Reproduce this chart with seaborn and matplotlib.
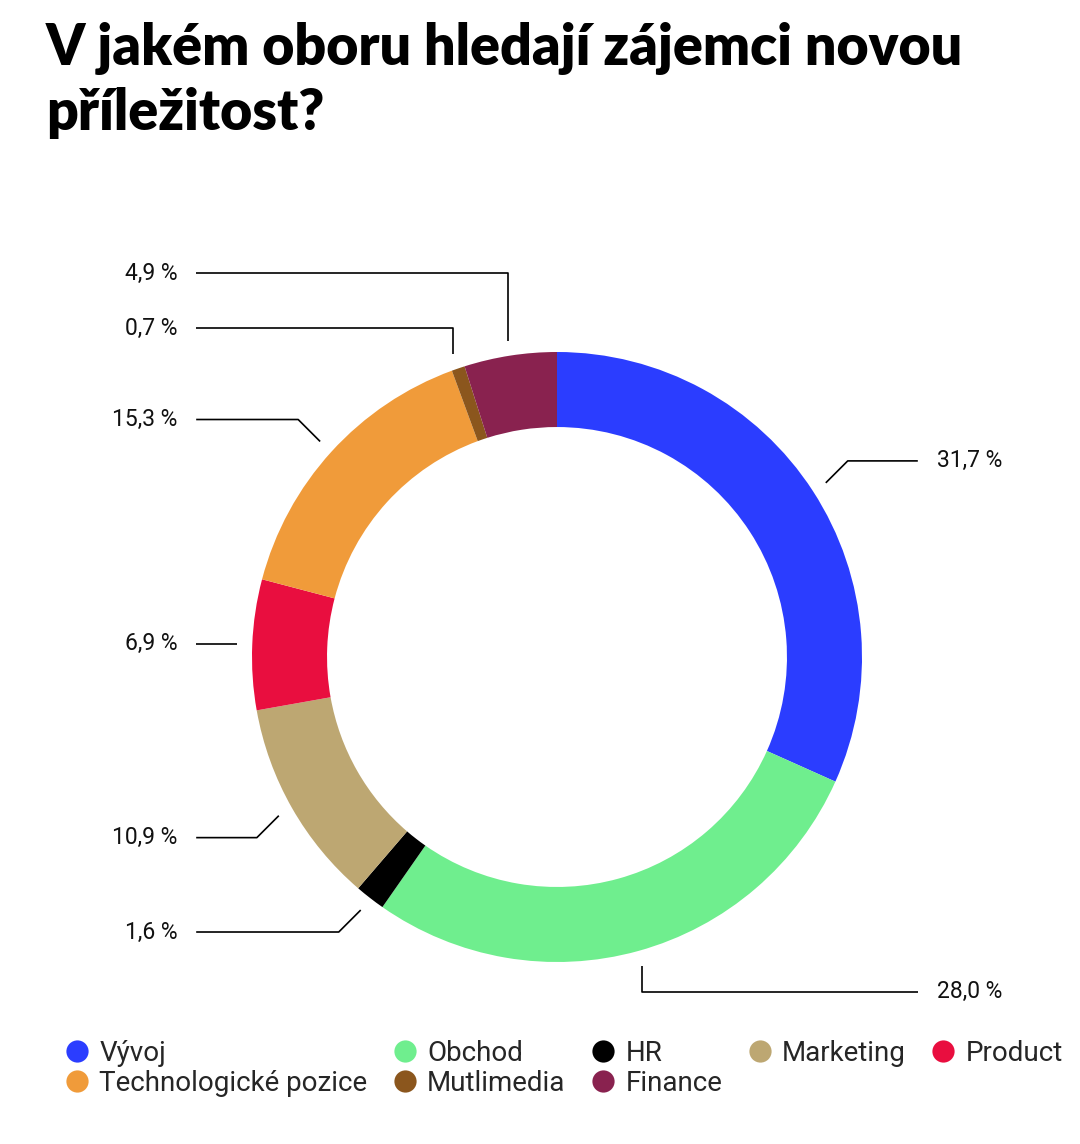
import numpy as np
import matplotlib
matplotlib.use("Agg")
import matplotlib.pyplot as plt
import seaborn as sns
from matplotlib.lines import Line2D

categories = ["Vývoj", "Obchod", "HR", "Marketing", "Product",
              "Technologické pozice", "Mutlimedia", "Finance"]
values = [31.7, 28.0, 1.6, 10.9, 6.9, 15.3, 0.7, 4.9]
colors = ["#2B3DFF", "#6FEE8E", "#000000", "#BDA772", "#E90E3F",
          "#F09B3A", "#8B561D", "#89224F"]
title = "V jakém oboru hledají zájemci novou\npříležitost?"

sns.set_theme(style="white")
plt.rcParams['font.family'] = ['Roboto', 'DejaVu Sans']

W, H = 1080, 1144
fig = plt.figure(figsize=(W / 100, H / 100), dpi=100)
fig.patch.set_facecolor("white")
cx, cy, R = 557, 657, 305
ax = fig.add_axes([0, 0, 1, 1])
palette = sns.color_palette(colors)
wedges, _ = ax.pie(values, colors=palette, startangle=90, counterclock=False,
                   radius=1.0, wedgeprops=dict(width=0.246, linewidth=0))
ax.set_xlim(-cx / R, (W - cx) / R)
ax.set_ylim(-(H - cy) / R, cy / R)
ax.axis('off')

# leader lines
total = sum(values)
cum = np.cumsum(values)
mids = [np.deg2rad(360 * (c - v / 2) / total) for c, v in zip(cum, values)]
r0, step, vstep, gap = 1.05, 0.072, 0.085, 0.18
items = []
for i, th in enumerate(mids):
    s, c = np.sin(th), np.cos(th)
    ax0, ay0 = r0 * s, r0 * c
    side = 1 if s > 0 else -1
    if abs(c) < 0.2:
        ex, ey = ax0, ay0
    elif abs(s) < 0.35:
        ex, ey = ax0, ay0 + vstep * np.sign(c)
    else:
        ex, ey = ax0 + step * side, ay0 + step * np.sign(c)
    items.append(dict(i=i, th=th, side=side, a=(ax0, ay0), e=[ex, ey]))

for side in (-1, 1):
    grp = [it for it in items if it["side"] == side]
    if side < 0:
        grp.sort(key=lambda it: -it["th"])
    else:
        grp.sort(key=lambda it: it["th"])
    for k in range(len(grp) - 2, -1, -1):
        grp[k]["e"][1] = max(grp[k]["e"][1], grp[k + 1]["e"][1] + gap)

for it in items:
    side = it["side"]
    (ax0, ay0), (ex, ey) = it["a"], it["e"]
    xs = [ax0, ex, side * 1.183]
    ys = [ay0, ey, ey]
    ax.plot(xs, ys, color="black", lw=1.2, solid_capstyle="butt")
    lab = f"{values[it['i']]:.1f}".replace(".", ",") + " %"
    ax.text(side * 1.245, ey, lab, ha="right" if side < 0 else "left",
            va="center", fontsize=16.5, color="#111111")

fig.text(46 / W, 1 - 22 / H, title, ha="left", va="top", fontsize=40,
         fontweight="heavy", color="black", linespacing=1.28,
         family=["Lato", "DejaVu Sans"])

order = [0, 5, 1, 6, 2, 7, 3, 4]
handles = [Line2D([], [], marker="o", linestyle="", markersize=16,
                  markerfacecolor=colors[i], markeredgewidth=0)
           for i in order]
labels = [categories[i] for i in order]
fig.legend(handles, labels, ncol=5, loc="upper left",
           bbox_to_anchor=(66 / W, 1 - 1040 / H), frameon=False,
           fontsize=20, handlelength=0.8, handletextpad=0.4,
           columnspacing=0.95, labelspacing=0.1, borderaxespad=0,
           borderpad=0)

fig.savefig("out.png", dpi=100, facecolor="white")
